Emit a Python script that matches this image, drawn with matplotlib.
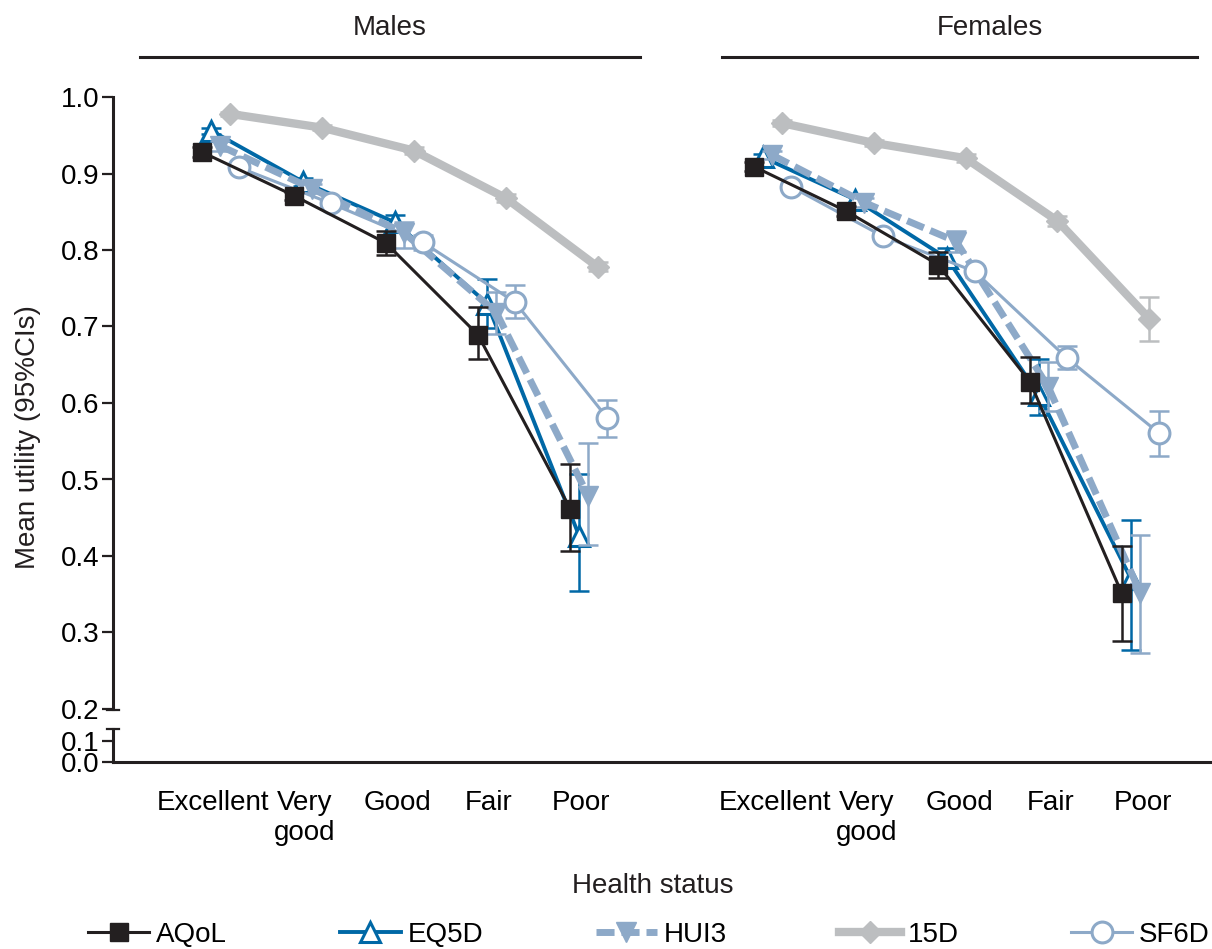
import matplotlib
matplotlib.use('Agg')
import matplotlib.pyplot as plt
from matplotlib.lines import Line2D
import numpy as np

plt.rcParams['font.family'] = ['Liberation Sans', 'DejaVu Sans']

categories = ['Excellent', 'Very\ngood', 'Good', 'Fair', 'Poor']
series = ['AQoL', 'EQ5D', 'HUI3', '15D', 'SF6D']

# Males: mean, lower CI, upper CI
aqol_m = [0.928, 0.871, 0.809, 0.689, 0.462]
aqol_m_lo = [0.922, 0.866, 0.794, 0.657, 0.406]
aqol_m_hi = [0.934, 0.876, 0.825, 0.726, 0.520]
eq5d_m = [0.956, 0.889, 0.836, 0.730, 0.426]
eq5d_m_lo = [0.952, 0.884, 0.826, 0.698, 0.354]
eq5d_m_hi = [0.960, 0.894, 0.846, 0.762, 0.507]
hui3_m = [0.936, 0.880, 0.822, 0.718, 0.478]
hui3_m_lo = [0.930, 0.874, 0.803, 0.690, 0.414]
hui3_m_hi = [0.942, 0.886, 0.837, 0.745, 0.548]
d15_m = [0.978, 0.960, 0.930, 0.868, 0.778]
d15_m_lo = [0.975, 0.957, 0.926, 0.863, 0.772]
d15_m_hi = [0.981, 0.963, 0.934, 0.873, 0.784]
sf6d_m = [0.908, 0.861, 0.810, 0.732, 0.581]
sf6d_m_lo = [0.903, 0.856, 0.800, 0.711, 0.556]
sf6d_m_hi = [0.913, 0.866, 0.820, 0.754, 0.604]

# Females
aqol_f = [0.909, 0.851, 0.781, 0.628, 0.351]
aqol_f_lo = [0.903, 0.845, 0.763, 0.600, 0.289]
aqol_f_hi = [0.915, 0.857, 0.797, 0.660, 0.413]
eq5d_f = [0.921, 0.866, 0.789, 0.610, 0.370]
eq5d_f_lo = [0.916, 0.860, 0.776, 0.584, 0.277]
eq5d_f_hi = [0.926, 0.872, 0.802, 0.657, 0.447]
hui3_f = [0.924, 0.862, 0.811, 0.621, 0.352]
hui3_f_lo = [0.919, 0.856, 0.797, 0.589, 0.273]
hui3_f_hi = [0.929, 0.868, 0.825, 0.653, 0.427]
d15_f = [0.966, 0.940, 0.920, 0.838, 0.710]
d15_f_lo = [0.962, 0.936, 0.915, 0.832, 0.681]
d15_f_hi = [0.970, 0.944, 0.925, 0.844, 0.738]
sf6d_f = [0.883, 0.818, 0.772, 0.659, 0.561]
sf6d_f_lo = [0.878, 0.813, 0.765, 0.645, 0.531]
sf6d_f_hi = [0.888, 0.823, 0.779, 0.675, 0.589]

males = [(aqol_m, aqol_m_lo, aqol_m_hi), (eq5d_m, eq5d_m_lo, eq5d_m_hi),
         (hui3_m, hui3_m_lo, hui3_m_hi), (d15_m, d15_m_lo, d15_m_hi),
         (sf6d_m, sf6d_m_lo, sf6d_m_hi)]
females = [(aqol_f, aqol_f_lo, aqol_f_hi), (eq5d_f, eq5d_f_lo, eq5d_f_hi),
           (hui3_f, hui3_f_lo, hui3_f_hi), (d15_f, d15_f_lo, d15_f_hi),
           (sf6d_f, sf6d_f_lo, sf6d_f_hi)]

BLACK = '#231F20'
BLUE = '#0068A6'
LBLUE = '#8DA9C8'
GREY = '#BCBEC0'

styles = [
    dict(color=BLACK, lw=2.2, marker='s', ms=13, mfc=BLACK, mec=BLACK, z=6),
    dict(color=BLUE, lw=2.8, marker='^', ms=15, mfc='white', mec=BLUE, mew=2.2, z=3),
    dict(color=LBLUE, lw=5, marker='v', ms=14, mfc=LBLUE, mec=LBLUE, dashes=(2.6, 1.0), z=4),
    dict(color=GREY, lw=6, marker='D', ms=11, mfc=GREY, mec=GREY, z=2),
    dict(color=LBLUE, lw=2.2, marker='o', ms=15, mfc='white', mec=LBLUE, mew=2.2, z=5),
]
offsets = [-0.2, -0.1, 0.0, 0.1, 0.2]

W, H = 1212, 949
fig = plt.figure(figsize=(W / 100, H / 100), dpi=100)
fs = 20

def fx(px):
    return px / W

def fy(py):
    return 1 - py / H

top_b = fy(709)
top_h = (709 - 97) / H
ax_m = fig.add_axes([fx(113), top_b, fx(640 - 113), top_h])
ax_f = fig.add_axes([fx(700), top_b, fx(1212 - 700), top_h])
ax_low = fig.add_axes([fx(113), fy(762), fx(1212 - 113), (762 - 729) / H])

x = np.arange(len(categories))
handles = []
for ax, data, xmin, xmax, lab_off in [(ax_m, males, -1.167, 4.56, -0.08),
                                      (ax_f, females, -0.787, 4.78, 0.03)]:
    for i, (vals, lo, hi) in enumerate(data):
        st = styles[i]
        xs = x + offsets[i]
        v = np.array(vals)
        yerr = [v - np.array(lo), np.array(hi) - v]
        ax.errorbar(xs, v, yerr=yerr, fmt='none', ecolor=st['color'],
                    elinewidth=1.8, capsize=7, capthick=1.8, zorder=st['z'],
                    clip_on=False)
        kw = dict(color=st['color'], lw=st['lw'], marker=st['marker'],
                  ms=st['ms'], mfc=st['mfc'], mec=st['mec'],
                  mew=st.get('mew', 1), zorder=st['z'] + 0.5, clip_on=False,
                  label=series[i])
        line, = ax.plot(xs, v, **kw)
        if 'dashes' in st:
            line.set_dashes(st['dashes'])
        if ax is ax_m:
            handles.append(line)
    ax.set_xlim(xmin, xmax)
    ax.set_ylim(0.2, 1.0)
    ax.set_xticks(x + lab_off)
    ax.set_xticklabels(categories, fontsize=fs)
    ax.tick_params(axis='x', length=0, pad=58)
    for s in ['top', 'right', 'bottom']:
        ax.spines[s].set_visible(False)
    ax.patch.set_alpha(0)

ax_m.spines['left'].set_linewidth(2.2)
ax_m.spines['left'].set_color(BLACK)
ax_m.set_yticks(np.arange(0.2, 1.01, 0.1))
ax_m.set_yticklabels(['%.1f' % t for t in np.arange(0.2, 1.01, 0.1)], fontsize=fs)
ax_m.tick_params(axis='y', length=8, width=1.6, color=BLACK, pad=2)
ax_f.spines['left'].set_visible(False)
ax_f.set_yticks([])

# lower segment of broken axis
ax_low.set_ylim(0, 0.157)
ax_low.set_xlim(0, 1)
ax_low.set_xticks([])
ax_low.set_yticks([0.0, 0.1])
ax_low.set_yticklabels(['0.0', '0.1'], fontsize=fs)
ax_low.tick_params(axis='y', length=8, width=1.6, color=BLACK, pad=2)
for s in ['top', 'right']:
    ax_low.spines[s].set_visible(False)
for s in ['left', 'bottom']:
    ax_low.spines[s].set_linewidth(2.2)
    ax_low.spines[s].set_color(BLACK)
ax_low.patch.set_alpha(0)

# break marks
for py in [710, 729]:
    fig.add_artist(Line2D([fx(107), fx(119)], [fy(py), fy(py)], color=BLACK, lw=1.6))

# panel headers
fig.text(fx(390), fy(28), 'Males', ha='center', va='center', fontsize=fs, color=BLACK)
fig.text(fx(990), fy(28), 'Females', ha='center', va='center', fontsize=fs, color=BLACK)
fig.add_artist(Line2D([fx(140), fx(640)], [fy(57), fy(57)], color=BLACK, lw=2.2))
fig.add_artist(Line2D([fx(722), fx(1197)], [fy(57), fy(57)], color=BLACK, lw=2.2))

fig.text(fx(28), fy(437), 'Mean utility (95%CIs)', rotation=90, ha='center',
         va='center', fontsize=fs, color=BLACK)
fig.text(fx(653), fy(886), 'Health status', ha='center', va='center',
         fontsize=fs, color=BLACK)

fig.legend(handles, series, loc='center', bbox_to_anchor=(fx(649), fy(935)),
           ncol=5, frameon=False, fontsize=fs, handlelength=2.2,
           handletextpad=0.25, columnspacing=4.05, borderaxespad=0)

fig.savefig('out.png', dpi=100)
